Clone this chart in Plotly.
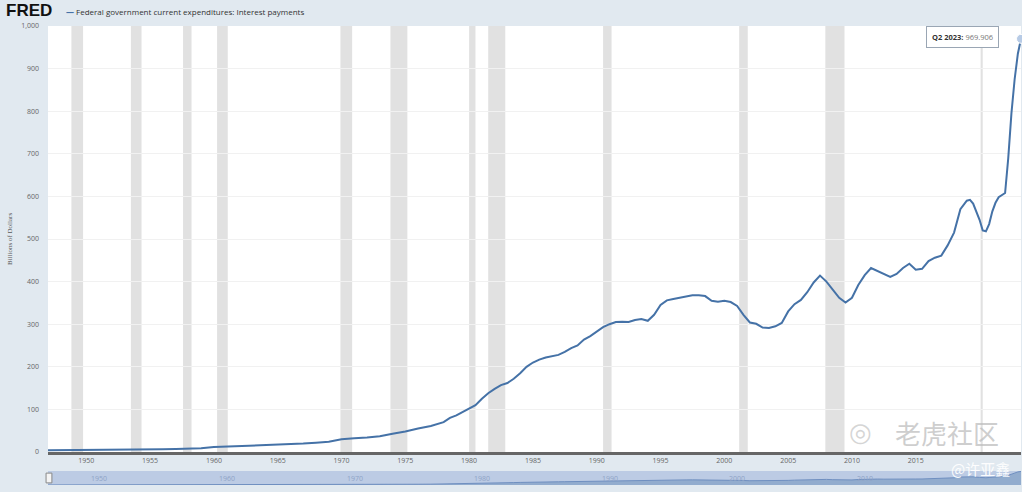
import plotly.graph_objects as go

# ---- data (Billions of Dollars) ----
dates = [
    "1947-01-01", "1948-01-01", "1949-01-01", "1950-01-01", "1951-01-01", "1952-01-01",
    "1953-01-01", "1954-01-01", "1955-01-01", "1956-01-01", "1957-01-01", "1958-01-01",
    "1959-01-01", "1960-01-01", "1961-01-01", "1962-01-01", "1963-01-01", "1964-01-01",
    "1965-01-01", "1966-01-01", "1967-01-01", "1968-01-01", "1969-01-01", "1970-01-01",
    "1970-07-01", "1971-01-01", "1972-01-01", "1973-01-01", "1974-01-01", "1975-01-01",
    "1976-01-01", "1977-01-01", "1978-01-01", "1978-07-01", "1979-01-01", "1979-07-01",
    "1980-01-01", "1980-07-01", "1981-01-01", "1981-07-01", "1982-01-01", "1982-07-01",
    "1983-01-01", "1983-07-01", "1984-01-01", "1984-07-01", "1985-01-01", "1985-07-01",
    "1986-01-01", "1986-07-01", "1987-01-01", "1987-07-01", "1988-01-01", "1988-07-01",
    "1989-01-01", "1989-07-01", "1990-01-01", "1990-07-01", "1991-01-01", "1991-07-01",
    "1992-01-01", "1992-07-01", "1993-01-01", "1993-07-01", "1994-01-01", "1994-07-01",
    "1995-01-01", "1995-07-01", "1996-01-01", "1996-07-01", "1997-01-01", "1997-07-01",
    "1998-01-01", "1998-07-01", "1999-01-01", "1999-07-01", "2000-01-01", "2000-07-01",
    "2001-01-01", "2001-07-01", "2002-01-01", "2002-07-01", "2003-01-01", "2003-07-01",
    "2004-01-01", "2004-07-01", "2005-01-01", "2005-07-01", "2006-01-01", "2006-07-01",
    "2007-01-01", "2007-07-01", "2008-01-01", "2008-07-01", "2009-01-01", "2009-07-01",
    "2010-01-01", "2010-07-01", "2011-01-01", "2011-07-01", "2012-01-01", "2012-07-01",
    "2013-01-01", "2013-07-01", "2014-01-01", "2014-07-01", "2015-01-01", "2015-07-01",
    "2016-01-01", "2016-07-01", "2017-01-01", "2017-07-01", "2018-01-01", "2018-07-01",
    "2019-01-01", "2019-04-01", "2019-07-01", "2020-01-01", "2020-04-01", "2020-07-01",
    "2020-10-01", "2021-01-01", "2021-04-01", "2021-07-01", "2021-10-01", "2022-01-01",
    "2022-04-01", "2022-07-01", "2022-10-01", "2023-01-01", "2023-04-01",
]
interest = [
    4.3, 4.4, 4.6, 4.8, 5.0, 5.2,
    5.6, 5.9, 6.0, 6.5, 7.3, 7.6,
    9.0, 11.5, 12.5, 13.5, 14.5, 15.5,
    17.0, 18.5, 20.0, 22.0, 24.0, 30.0,
    32.0, 32.5, 34.0, 37.0, 43.0, 48.0,
    55.0, 61.0, 70.0, 80.0, 86.0, 94.0,
    103.0, 110.0, 125.0, 138.0, 148.0, 157.0,
    162.0, 172.0, 185.0, 200.0, 210.0, 217.0,
    222.0, 225.0, 228.0, 235.0, 244.0, 250.0,
    264.0, 272.0, 282.0, 293.0, 300.0, 305.0,
    306.0, 305.0, 310.0, 312.0, 308.0, 322.0,
    345.0, 356.0, 359.0, 362.0, 365.0, 368.0,
    368.0, 366.0, 355.0, 353.0, 355.0, 352.0,
    343.0, 322.0, 304.0, 301.0, 292.0, 291.0,
    295.0, 303.0, 330.0, 347.0, 357.0, 375.0,
    398.0, 414.0, 400.0, 380.0, 362.0, 351.0,
    362.0, 392.0, 415.0, 432.0, 425.0, 418.0,
    411.0, 418.0, 432.0, 442.0, 428.0, 430.0,
    448.0, 456.0, 461.0, 485.0, 515.0, 570.0,
    590.0, 592.0, 583.0, 545.0, 520.0, 518.0,
    535.0, 565.0, 585.0, 598.0, 603.0, 608.0,
    690.0, 795.0, 875.0, 935.0, 969.906,
]

rec_start = ["1948-11-01", "1953-07-01", "1957-08-01", "1960-04-01", "1969-12-01", "1973-11-01",
             "1980-01-01", "1981-07-01", "1990-07-01", "2001-03-01", "2007-12-01", "2020-02-01"]
rec_end = ["1949-10-01", "1954-05-01", "1958-04-01", "1961-02-01", "1970-11-01", "1975-03-01",
           "1980-07-01", "1982-11-01", "1991-03-01", "2001-11-01", "2009-06-01", "2020-04-01"]

x_tick_years = ["1950", "1955", "1960", "1965", "1970", "1975", "1980", "1985",
                "1990", "1995", "2000", "2005", "2010", "2015"]
nav_years = ["1950", "1960", "1970", "1980", "1990", "2000", "2010"]
y_ticks = [0, 100, 200, 300, 400, 500, 600, 700, 800, 900, 1000]

series_name = "Federal government current expenditures: Interest payments"
y_title = "Billions of Dollars"
last_label = "Q2 2023"

LINE = "#4572a7"
BG = "#e1e9f0"
X_RANGE = ["1947-01-01", "2023-04-01"]

fig = go.Figure()

# main line
fig.add_trace(go.Scatter(
    x=dates, y=interest, mode="lines", name=series_name,
    line=dict(color=LINE, width=2), xaxis="x", yaxis="y", showlegend=False,
    hoverinfo="skip", cliponaxis=False,
))
# hover marker at last point
fig.add_trace(go.Scatter(
    x=[dates[-1]], y=[interest[-1]], mode="markers",
    marker=dict(size=9, color="#b7cbe6", line=dict(color="#ffffff", width=1)),
    xaxis="x", yaxis="y", showlegend=False, hoverinfo="skip", cliponaxis=False,
))
# navigator area
fig.add_trace(go.Scatter(
    x=dates, y=interest, mode="lines", fill="tozeroy",
    line=dict(color="#6f8fc0", width=1), fillcolor="rgba(69,114,167,0.35)",
    xaxis="x2", yaxis="y2", showlegend=False, hoverinfo="skip",
))

shapes = []
for s, e in zip(rec_start, rec_end):
    shapes.append(dict(type="rect", xref="x", yref="y domain", x0=s, x1=e, y0=0, y1=1,
                       fillcolor="#e1e1e1", line=dict(width=0), layer="below"))
# navigator background
shapes.append(dict(type="rect", xref="x2 domain", yref="y2 domain", x0=0, x1=1, y0=0, y1=1,
                   fillcolor="#bccbe4", line=dict(width=0), layer="below"))
# navigator left handle
shapes.append(dict(type="rect", xref="x2 domain", yref="y2 domain", x0=-0.002, x1=0.004, y0=0.15, y1=0.85,
                   fillcolor="#f4f4f4", line=dict(color="#888888", width=1)))

annotations = []
# FRED logo
annotations.append(dict(xref="paper", yref="paper", x=-44/973, y=1 + 26/459, xanchor="left", yanchor="top",
                        yshift=1, text="<b>FRED</b>", showarrow=False,
                        font=dict(family="Liberation Sans, Arial", size=17, color="#111111")))
# legend
annotations.append(dict(xref="paper", yref="paper", x=(64-48)/973, y=1 + 26/459, xanchor="left", yanchor="top",
                        yshift=-4, showarrow=False,
                        text="<span style='color:#4572a7'><b>—</b></span> " + series_name,
                        font=dict(family="Open Sans, Arial", size=8, color="#333333")))
# y-axis title
annotations.append(dict(xref="paper", yref="y domain", x=-38/973, y=0.5, textangle=-90,
                        text=y_title, showarrow=False, xanchor="center", yanchor="middle",
                        font=dict(family="Liberation Serif, serif", size=7, color="#555555")))
# tooltip box
annotations.append(dict(xref="x", yref="y", x=dates[-1], y=interest[-1], xanchor="right", yanchor="middle",
                        xshift=-22, yshift=2, showarrow=False,
                        text="<b>" + last_label + ":</b> <span style='color:#777777'>" + f"{interest[-1]:.3f}" + "</span>",
                        bgcolor="#ffffff", bordercolor="#9aa6b4", borderwidth=1, borderpad=5,
                        font=dict(family="Open Sans, Arial", size=7.5, color="#333333")))
# navigator labels
for yr in nav_years:
    annotations.append(dict(xref="x2", yref="y2 domain", x=yr + "-01-01", y=0.5, xanchor="left", yanchor="middle",
                            xshift=3, showarrow=False, text=yr,
                            font=dict(family="Open Sans, Arial", size=7, color="#8fa3c6")))
# watermarks
annotations.append(dict(xref="paper", yref="paper", x=(893-48)/973, y=(485-432)/459, xanchor="left", yanchor="middle",
                        showarrow=False, text="老虎社区",
                        font=dict(family="Noto Sans CJK SC", size=26, color="rgba(190,190,190,0.75)")))
annotations.append(dict(xref="paper", yref="paper", x=(860-48)/973, y=(485-432)/459, xanchor="center", yanchor="middle",
                        showarrow=False, text="◎",
                        font=dict(family="DejaVu Sans", size=26, color="rgba(200,200,200,0.75)")))
annotations.append(dict(xref="paper", yref="paper", x=(1012-48)/973, y=(485-468)/459, xanchor="right", yanchor="middle",
                        showarrow=False, text="@许亚鑫",
                        font=dict(family="Noto Sans CJK SC", size=15, color="rgba(255,255,255,0.95)")))

fig.update_layout(
    width=1022, height=492,
    margin=dict(l=48, r=1, t=26, b=7),
    paper_bgcolor=BG, plot_bgcolor="#ffffff",
    xaxis=dict(
        domain=[0, 1], anchor="y", type="date", range=X_RANGE,
        tickvals=[y + "-01-01" for y in x_tick_years], ticktext=x_tick_years,
        showgrid=False, zeroline=False,
        showline=True, linecolor="#666666", linewidth=3,
        ticks="", tickfont=dict(family="Open Sans, Arial", size=7, color="#666666"),
    ),
    yaxis=dict(
        domain=[33/459, 1], anchor="x", range=[0, 1000],
        tickvals=y_ticks, tickformat=",d",
        showgrid=True, gridcolor="#f1f1f1", gridwidth=1, zeroline=False,
        ticks="", ticklabelstandoff=8,
        tickfont=dict(family="Open Sans, Arial", size=7, color="#666666"),
    ),
    xaxis2=dict(
        domain=[0, 1], anchor="y2", type="date", range=X_RANGE,
        showgrid=False, zeroline=False, showticklabels=False, ticks="",
    ),
    yaxis2=dict(
        domain=[0, 14/459], anchor="x2", range=[0, 1000],
        showgrid=False, zeroline=False, showticklabels=False, ticks="",
    ),
    shapes=shapes, annotations=annotations,
    hovermode=False,
)

fig.write_html(
    "out.html",
    config={"displayModeBar": False, "staticPlot": True},
    post_script="document.body.style.margin='0';document.body.style.overflow='hidden';",
)
